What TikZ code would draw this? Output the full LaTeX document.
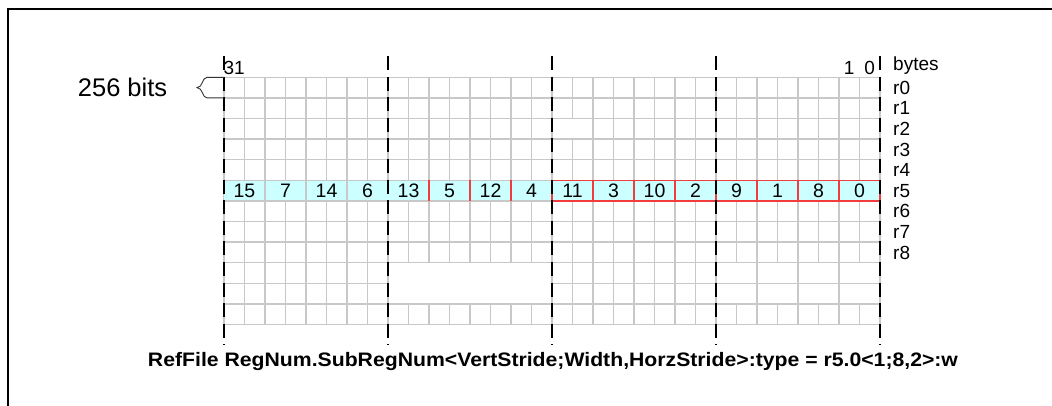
\documentclass[tikz,border=0pt]{standalone}
\usepackage{fontspec}
\setmainfont{Liberation Sans}
\definecolor{gridgray}{RGB}{200,200,200}
\definecolor{cellcyan}{RGB}{204,255,255}
\definecolor{cellred}{RGB}{240,60,60}
\begin{document}
\begin{tikzpicture}[x=1pt,y=-1pt,
  gridline/.style={draw=gridgray,line width=1.3pt},
  redline/.style={draw=cellred,line width=1.3pt},
  bytesep/.style={draw=black,line width=1.8pt,dash pattern=on 14pt off 6.6pt},
  celltext/.style={font=\fontsize{19.5}{20}\selectfont,inner sep=0pt},
  lbl/.style={font=\fontsize{19}{20}\selectfont,inner sep=0pt},
]
\useasboundingbox (0,0) rectangle (1052,405);
\clip (0,0) rectangle (1052,405);
\draw[line width=2pt] (8,9) rectangle (1070,430);
\begin{scope}[shift={(224,77.3)},x=20.5pt,y=-20.6pt]
  % horizontal grid lines
  \foreach \j in {0,1,2,3,4,5,6,7,8,9,11,12} \draw[gridline] (0,\j) -- (32,\j);
  \draw[gridline] (0,10) -- (8,10) (16,10) -- (32,10);
  % vertical grid lines, rows 0-9
  \foreach \i in {0,...,16,18,19,20,21,22,23,24,25,26,27,28,29,30,31,32} \draw[gridline] (\i,0) -- (\i,9);
  \draw[gridline] (17,0) -- (17,2) (17,3) -- (17,9);
  % rows 9-11
  \foreach \i in {0,1,2,3,4,5,6,7,8,16,17,18,19,20,21,22,23,24,26,28,30,32} \draw[gridline] (\i,9) -- (\i,11);
  % row 11-12
  \foreach \i in {0,...,32} \draw[gridline] (\i,11) -- (\i,12);
  % r5 highlighted row
  \fill[cellcyan] (0,5) rectangle (32,6);
  \draw[gridline] (0,5) -- (16,5) (0,6) -- (16,6);
  \foreach \i in {2,4,6} \draw[gridline] (\i,5) -- (\i,6);
  \foreach \i in {10,12,14,16} \draw[redline] (\i,5) -- (\i,6);
  \draw[redline] (16,5) rectangle (32,6);
  \foreach \i in {18,20,...,30} \draw[redline] (\i,5) -- (\i,6);
  \foreach \lab [count=\k] in {15,7,14,6,13,5,12,4,11,3,10,2,9,1,8,0}
    \node[celltext] (c\lab) at ({2*\k-1},5.5) {\lab};
\end{scope}
% byte separators
\foreach \x [count=\n] in {224,388,552,716,880} \draw[bytesep] (\x,56) -- (\x,345);
% top labels
\node[lbl,anchor=base] (b31) at (234.25,74) {31};
\node[lbl,anchor=base] (b1) at (849.25,74) {1};
\node[lbl,anchor=base] (b0) at (869.75,74) {0};
\node[lbl,anchor=base west] (bytes) at (893,70) {bytes};
\foreach \r in {0,...,8}
  \node[lbl,anchor=base west] (r\r) at (893,{94.3+20.6*\r}) {r\r};
% 256 bits with brace
\node[font=\fontsize{25.5}{26}\selectfont,anchor=base west,inner sep=0pt] (bits) at (77.7,96.7) {256 bits};
\draw[line width=0.9pt,black!80] (224,77.3) -- (207,77.3) .. controls (202,77.3) and (203,87.6) .. (197,87.6)
  .. controls (203,87.6) and (202,97.9) .. (207,97.9) -- (224,97.9);
% caption
\node[font=\bfseries\fontsize{19.5}{21}\selectfont,anchor=base,inner sep=0pt] (caption) at (553,366)
  {\resizebox{810pt}{\height}{RefFile RegNum.SubRegNum<VertStride;Width,HorzStride>:type = r5.0<1;8,2>:w}};
\end{tikzpicture}
\end{document}
